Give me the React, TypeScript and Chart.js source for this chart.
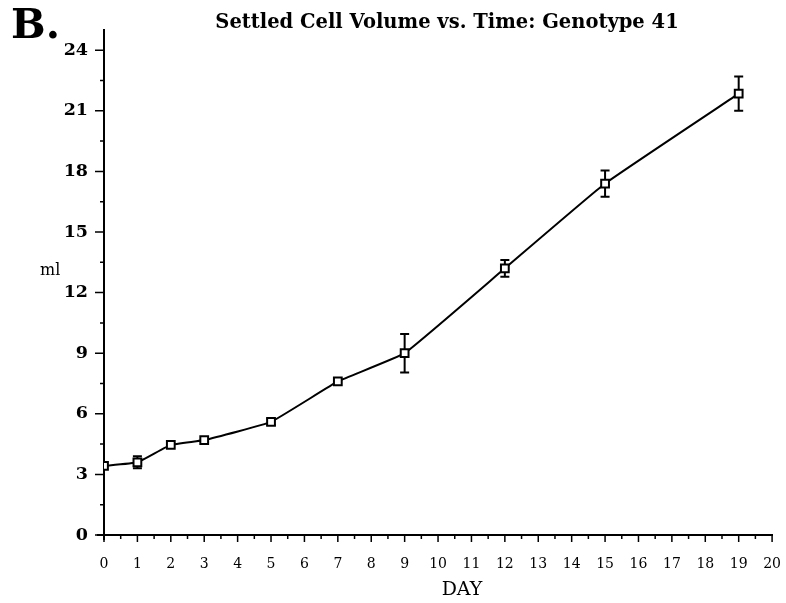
import React, { useEffect, useRef } from "react";
import { Chart, registerables } from "chart.js";

Chart.register(...registerables);

// Settled cell volume (ml) measured on each sampling day, with ± error
const days = [0, 1, 2, 3, 5, 7, 9, 12, 15, 19];
const volumeMl = [3.42, 3.6, 4.46, 4.7, 5.6, 7.6, 9.0, 13.2, 17.4, 21.85];
const errorMl = [0, 0.3, 0, 0, 0.15, 0, 0.95, 0.42, 0.65, 0.85];

const xTickValues = [0, 1, 2, 3, 4, 5, 6, 7, 8, 9, 10, 11, 12, 13, 14, 15, 16, 17, 18, 19, 20];
const yTickValues = [0, 3, 6, 9, 12, 15, 18, 21, 24];

const titleText = "Settled Cell Volume vs. Time: Genotype 41";
const panelLabel = "B.";
const yAxisLabel = "ml";
const xAxisLabel = "DAY";

const SERIF = "'DejaVu Serif', 'Liberation Serif', serif";

// vertical error bars with caps, drawn beneath the markers
const errorBarPlugin = {
  id: "errorBars",
  beforeDatasetsDraw(chart: any) {
    const { ctx, scales } = chart;
    ctx.save();
    ctx.strokeStyle = "#000";
    ctx.lineWidth = 2;
    days.forEach((d, i) => {
      const e = errorMl[i];
      if (!e) return;
      const x = scales.x.getPixelForValue(d);
      const yTop = scales.y.getPixelForValue(volumeMl[i] + e);
      const yBot = scales.y.getPixelForValue(volumeMl[i] - e);
      ctx.beginPath();
      ctx.moveTo(x, yTop);
      ctx.lineTo(x, yBot);
      ctx.moveTo(x - 4.5, yTop);
      ctx.lineTo(x + 4.5, yTop);
      ctx.moveTo(x - 4.5, yBot);
      ctx.lineTo(x + 4.5, yBot);
      ctx.stroke();
    });
    ctx.restore();
  },
};

// major and half-step minor tick marks, plus the short axis overhang at the origin
const tickMarkPlugin = {
  id: "tickMarks",
  afterDraw(chart: any) {
    const { ctx, scales, chartArea } = chart;
    const { left, bottom } = chartArea;
    ctx.save();
    ctx.strokeStyle = "#000";
    ctx.lineWidth = 1.5;
    ctx.beginPath();
    xTickValues.forEach((v, i) => {
      const x = scales.x.getPixelForValue(v);
      ctx.moveTo(x, bottom);
      ctx.lineTo(x, bottom + 7);
      if (i < xTickValues.length - 1) {
        const xm = scales.x.getPixelForValue((v + xTickValues[i + 1]) / 2);
        ctx.moveTo(xm, bottom);
        ctx.lineTo(xm, bottom + 4);
      }
    });
    yTickValues.forEach((v, i) => {
      const y = scales.y.getPixelForValue(v);
      ctx.moveTo(left, y);
      ctx.lineTo(left - 9, y);
      if (i < yTickValues.length - 1) {
        const ym = scales.y.getPixelForValue((v + yTickValues[i + 1]) / 2);
        ctx.moveTo(left, ym);
        ctx.lineTo(left - 4, ym);
      }
    });
    ctx.stroke();
    ctx.lineWidth = 2;
    ctx.beginPath();
    ctx.moveTo(left - 7, bottom);
    ctx.lineTo(left, bottom);
    ctx.moveTo(left, bottom);
    ctx.lineTo(left, bottom + 5);
    ctx.stroke();
    ctx.restore();
  },
};

// panel letter, heading and axis names
const labelsPlugin = {
  id: "labels",
  afterDraw(chart: any) {
    const { ctx } = chart;
    ctx.save();
    ctx.fillStyle = "#000";
    ctx.textBaseline = "alphabetic";

    ctx.textAlign = "left";
    ctx.font = `bold 41px ${SERIF}`;
    ctx.fillText(panelLabel, 11, 38);

    ctx.textAlign = "center";
    ctx.font = `bold 19.5px ${SERIF}`;
    ctx.fillText(titleText, 447, 28);

    ctx.font = `16px ${SERIF}`;
    ctx.textAlign = "left";
    ctx.fillText(yAxisLabel, 40, 275);

    ctx.textAlign = "center";
    ctx.font = `19px ${SERIF}`;
    ctx.fillText(xAxisLabel, 462, 595);
    ctx.restore();
  },
};

export default function App() {
  const canvasRef = useRef<HTMLCanvasElement | null>(null);

  useEffect(() => {
    if (!canvasRef.current) return;
    const points = days.map((d, i) => ({ x: d, y: volumeMl[i] }));

    const chart = new Chart(canvasRef.current, {
      type: "line",
      data: {
        datasets: [
          {
            data: points,
            borderColor: "#000",
            borderWidth: 2,
            tension: 0.1,
            pointStyle: "rect",
            pointRadius: 5.5,
            pointBackgroundColor: "#fff",
            pointBorderColor: "#000",
            pointBorderWidth: 2,
          },
          {
            // centre dot of each open square marker
            data: points,
            showLine: false,
            pointStyle: "circle",
            pointRadius: 1,
            pointBackgroundColor: "#000",
            pointBorderWidth: 0,
          },
        ],
      },
      options: {
        responsive: false,
        animation: false,
        layout: { padding: { top: 30, right: 8, left: 0, bottom: 0 } },
        plugins: {
          legend: { display: false },
          tooltip: { enabled: false },
          title: { display: false },
        },
        scales: {
          x: {
            type: "linear",
            min: 0,
            max: 20,
            afterBuildTicks(scale: any) {
              scale.ticks = xTickValues.map((v) => ({ value: v }));
            },
            afterFit(scale: any) {
              scale.height = 68;
            },
            border: { color: "#000", width: 2 },
            // tick marks are drawn by tickMarkPlugin; the grid ticks only space the labels
            grid: { drawOnChartArea: false, drawTicks: true, tickLength: 16, tickColor: "rgba(0,0,0,0)" },
            ticks: {
              autoSkip: false,
              maxRotation: 0,
              padding: 5,
              color: "#000",
              font: { family: SERIF, size: 14 },
            },
          },
          y: {
            type: "linear",
            min: 0,
            max: 25,
            afterBuildTicks(scale: any) {
              scale.ticks = yTickValues.map((v) => ({ value: v }));
            },
            afterFit(scale: any) {
              scale.width = 104;
            },
            border: { color: "#000", width: 2 },
            grid: { drawOnChartArea: false, drawTicks: true, tickLength: 11, tickColor: "rgba(0,0,0,0)" },
            ticks: {
              autoSkip: false,
              padding: 5,
              color: "#000",
              font: { family: SERIF, size: 17.5, weight: "bold" },
            },
          },
        },
      },
      plugins: [errorBarPlugin, tickMarkPlugin, labelsPlugin],
    } as any);

    return () => chart.destroy();
  }, []);

  return (
    <div style={{ position: "absolute", left: 0, top: 0, width: 786, height: 603, background: "#fff" }}>
      <canvas ref={canvasRef} width={786} height={603} />
    </div>
  );
}
